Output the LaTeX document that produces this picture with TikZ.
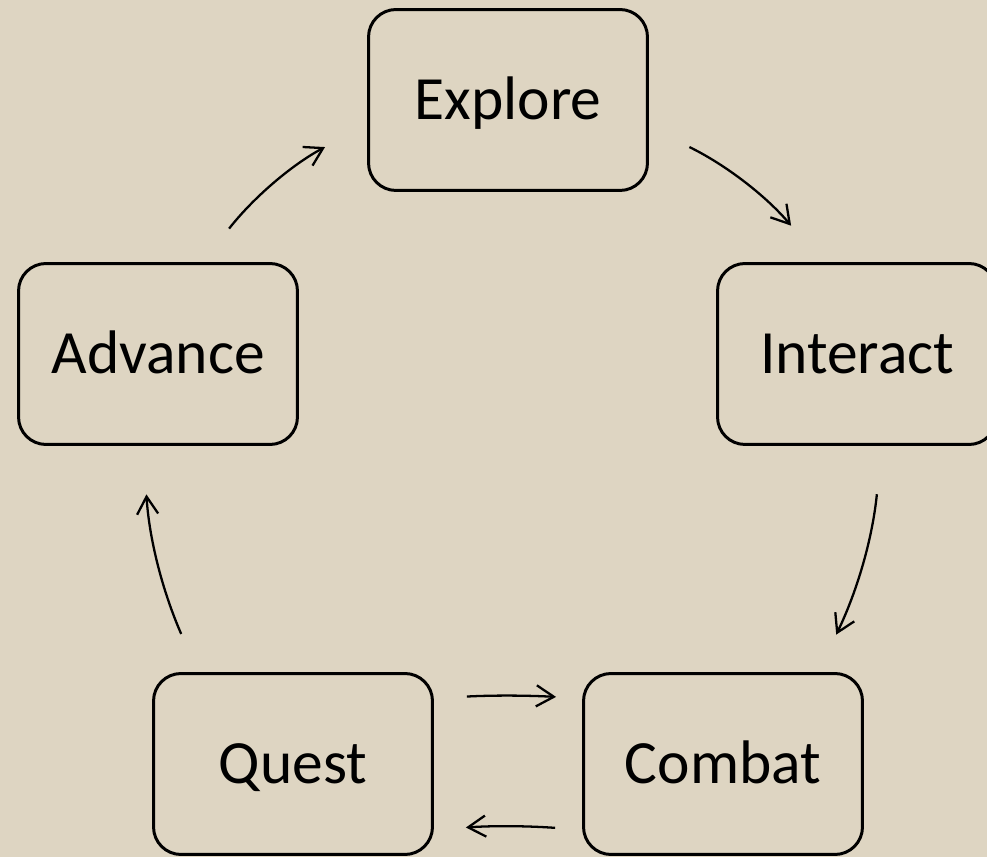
\documentclass[tikz,border=0pt]{standalone}
\usepackage{fontspec}
\setmainfont{Carlito}
\usepackage{tikz}
\usetikzlibrary{arrows.meta,positioning}
\definecolor{parchment}{RGB}{222,213,194}

\begin{document}
\begin{tikzpicture}[x=0.02cm,y=-0.02cm,
    stage/.style={draw=black,line width=1.7pt,rounded corners=0.55cm,rectangle,
        minimum width=5.58cm,minimum height=3.62cm,inner sep=0pt,
        font=\fontsize{35}{42}\selectfont,text height=22.6pt,text depth=0pt},
    cyc/.style={line width=1.3pt,-{Straight Barb[length=10pt,width=12pt]}}]

    \fill[parchment] (0,0) rectangle (987,857);
    \useasboundingbox (0,0) rectangle (987,857);
    \clip (0,0) rectangle (987,857);

    \node[stage] (explore)  at (508,100) {Explore};
    \node[stage] (advance)  at (158,354) {Advance};
    \node[stage] (interact) at (857,354) {Interact};
    \node[stage] (quest)    at (293,764) {Quest};
    \node[stage] (combat)   at (723,764) {Combat};

    \draw[cyc,shorten <=0.85cm,shorten >=0.95cm] (advance.64) to[bend left=12] (explore.190);
    \draw[cyc,shorten <=0.9cm,shorten >=0.95cm] (explore.349) to[bend left=12] (interact.111);
    \draw[cyc,shorten <=0.97cm,shorten >=0.83cm] (interact.285) to[bend left=10] (combat.44);
    \draw[cyc,shorten <=0.54cm,shorten >=0.64cm] (combat.205) to[bend right=4] (quest.335);
    \draw[cyc,shorten <=0.66cm,shorten >=0.52cm] (quest.25) to[bend left=3] (combat.155);
    \draw[cyc,shorten <=0.83cm,shorten >=0.97cm] (quest.136) to[bend left=10] (advance.261);

\end{tikzpicture}
\end{document}
